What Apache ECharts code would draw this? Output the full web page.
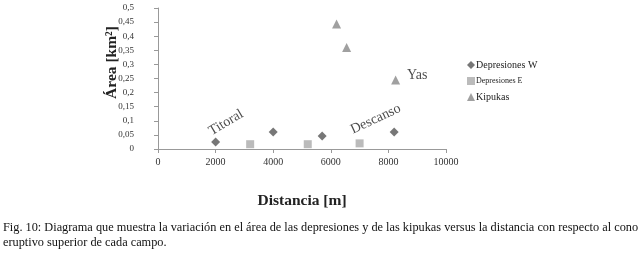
<!DOCTYPE html>
<html>
<head>
<meta charset="utf-8">
<script src="https://cdn.jsdelivr.net/npm/echarts@6/dist/echarts.min.js"></script>
<style>
  html, body { margin: 0; padding: 0; background: #fff; }
  #chart { width: 640px; height: 256px; }
</style>
</head>
<body>
<div id="chart"></div>
<script>
// datos
const depW = [[2000, 0.025], [4000, 0.06], [5700, 0.046], [8200, 0.06]];
const depE = [[3200, 0.017], [5200, 0.017], [7000, 0.02]];
const kipukas = [[6200, 0.443], [6550, 0.36], [8250, 0.245]];
const campos = { Titoral: [2000, 0.025], Descanso: [7000, 0.02], Yas: [8250, 0.245] };

const serif = 'Liberation Serif';
const chart = echarts.init(document.getElementById('chart'));

// etiqueta de campo sobre un punto concreto
function conEtiqueta(data, nombre, label) {
  return data.map(p => {
    const c = campos[nombre];
    if (p[0] === c[0] && p[1] === c[1]) {
      return { value: p, label: Object.assign({ show: true, formatter: nombre, color: '#1a1a1a', fontFamily: serif }, label) };
    }
    return p;
  });
}

chart.setOption({
  animation: false,
  grid: { left: 158, right: 194, top: 8, bottom: 107 },
  legend: {
    orient: 'vertical',
    left: 462,
    top: 55,
    itemWidth: 8,
    itemHeight: 8,
    itemGap: 7,
    textStyle: { fontFamily: serif, fontSize: 10, color: '#222', padding: [0, 0, 0, -4] },
    data: [
      { name: 'Depresiones W', icon: 'diamond', itemStyle: { color: '#555' } },
      { name: 'Depresiones E', icon: 'rect', textStyle: { fontSize: 8 } },
      { name: 'Kipukas', icon: 'triangle' }
    ]
  },
  xAxis: {
    type: 'value',
    min: 0,
    max: 10000,
    interval: 2000,
    name: 'Distancia [m]',
    nameLocation: 'middle',
    nameGap: 44,
    nameTextStyle: { fontFamily: serif, fontSize: 15.5, fontWeight: 'bold', color: '#222' },
    axisLine: { lineStyle: { color: '#999' } },
    axisTick: { show: true, length: 4, lineStyle: { color: '#999' } },
    axisLabel: { fontFamily: serif, fontSize: 10, color: '#333', margin: 8, formatter: v => String(v) },
    splitLine: { show: false }
  },
  yAxis: {
    type: 'value',
    min: 0,
    max: 0.5,
    interval: 0.05,
    name: 'Área [km²]',
    nameLocation: 'middle',
    nameGap: 38,
    nameMoveOverlap: false,
    nameTextStyle: { fontFamily: serif, fontSize: 15.5, fontWeight: 'bold', color: '#222', padding: [0, 0, 0, 32] },
    axisLine: { show: true, lineStyle: { color: '#999' } },
    axisTick: { show: true, length: 4, lineStyle: { color: '#999' } },
    axisLabel: {
      fontFamily: serif, fontSize: 9, color: '#333', margin: 24,
      formatter: v => String(Math.round(v * 100) / 100).replace('.', ',')
    },
    splitLine: { show: false }
  },
  series: [
    {
      name: 'Depresiones W',
      type: 'scatter',
      symbol: 'diamond',
      symbolSize: 9,
      itemStyle: { color: '#555' },
      data: conEtiqueta(depW, 'Titoral', { position: 'top', offset: [14, 4], rotate: 31, fontSize: 14 })
    },
    {
      name: 'Depresiones E',
      type: 'scatter',
      symbol: 'rect',
      symbolSize: 8,
      itemStyle: { color: '#aaa' },
      data: conEtiqueta(depE, 'Descanso', { position: 'top', offset: [21, 0], rotate: 25, fontSize: 14 })
    },
    {
      name: 'Kipukas',
      type: 'scatter',
      symbol: 'triangle',
      symbolSize: 9,
      itemStyle: { color: '#888' },
      data: conEtiqueta(kipukas, 'Yas', { position: 'right', offset: [2, -5], fontSize: 14 })
    }
  ],
  graphic: [
    {
      type: 'text',
      left: 3,
      top: 220,
      style: {
        text: 'Fig. 10: Diagrama que muestra la variación en el área de las depresiones y de las kipukas versus la distancia con respecto al cono\neruptivo superior de cada campo.',
        fontFamily: serif,
        fontSize: 12.3,
        lineHeight: 15,
        fill: '#111'
      }
    }
  ]
});
</script>
</body>
</html>
